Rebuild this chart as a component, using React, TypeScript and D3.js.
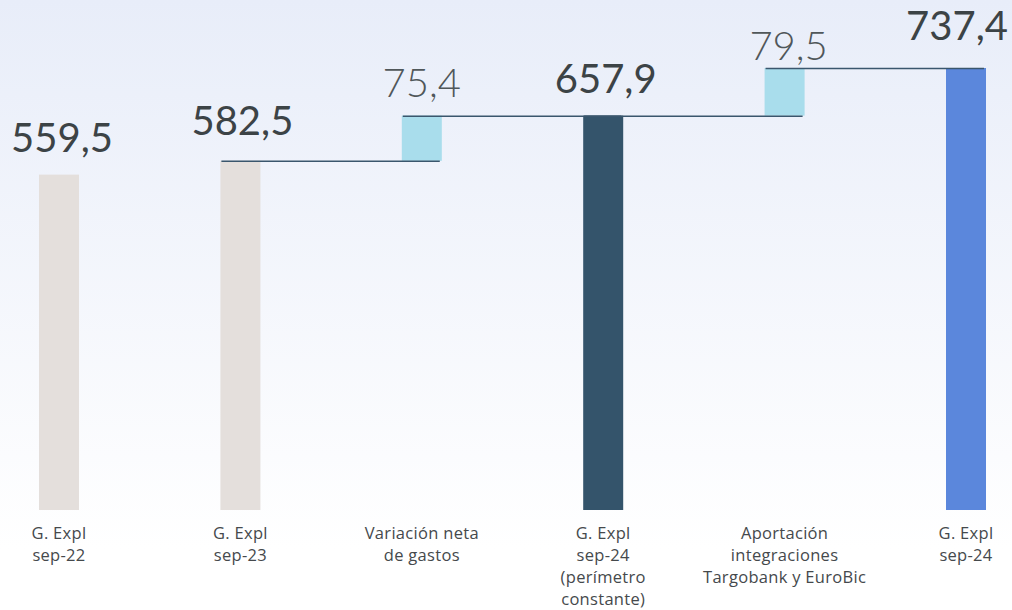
import React from "react";
import * as d3 from "d3";

const categories = [
  ["G. Expl", "sep-22"],
  ["G. Expl", "sep-23"],
  ["Variación neta", "de gastos"],
  ["G. Expl", "sep-24", "(perímetro", "constante)"],
  ["Aportación", "integraciones", "Targobank y EuroBic"],
  ["G. Expl", "sep-24"],
];
const kinds = ["base", "base", "delta", "total", "delta", "final"];
const values = [559.5, 582.5, 75.4, 657.9, 79.5, 737.4];
const labels = ["559,5", "582,5", "75,4", "657,9", "79,5", "737,4"];

const colors: Record<string, string> = {
  base: "#e4dfdc",
  delta: "#a9ddec",
  total: "#34546b",
  final: "#5b87dc",
};
const labelGap = [23, 26, 19, 23, 8, 28];
const labelShift = [3, 2, 0, 2.5, 4, -9];

export default function App() {
  const W = 1012, H = 610;
  const x = d3.scalePoint<number>().domain(d3.range(categories.length)).range([59, 966]);
  const y = d3.scaleLinear().domain([0, 737.4]).range([510, 68]);
  const bw = 40;

  let running = 0;
  const bars = values.map((v, i) => {
    let y0: number, y1: number;
    if (kinds[i] === "delta") {
      y0 = running;
      y1 = running + v;
      running = y1;
    } else {
      y0 = 0;
      y1 = v;
      running = v;
    }
    return { i, y0, y1 };
  });

  return (
    <svg width={W} height={H} style={{ position: "absolute", left: 0, top: 0 }}>
      <defs>
        <linearGradient id="bg" x1="0" y1="0" x2="0" y2="1">
          <stop offset="0" stopColor="#e8edf9" />
          <stop offset="0.9" stopColor="#ffffff" />
        </linearGradient>
      </defs>
      <rect width={W} height={H} fill="url(#bg)" />
      {bars.map((b) => (
        <rect
          key={b.i}
          x={x(b.i)! - bw / 2}
          y={y(b.y1)}
          width={bw}
          height={y(b.y0) - y(b.y1)}
          fill={colors[kinds[b.i]]}
        />
      ))}
      {bars.slice(1, -1).map((b, k) => {
        const next = bars[k + 2];
        const v = b.y1;
        return (
          <line
            key={"c" + k}
            x1={x(b.i)! - bw / 2 + 1}
            x2={x(next.i)! + bw / 2 - 2}
            y1={y(v) + 0.5}
            y2={y(v) + 0.5}
            stroke="#3a566d"
            strokeWidth={1.5}
          />
        );
      })}
      {bars.map((b) => (
        <text
          key={"l" + b.i}
          x={x(b.i)! + labelShift[b.i]}
          y={y(b.y1) - labelGap[b.i]}
          textAnchor="middle"
          fontFamily="Lato, 'Open Sans', sans-serif"
          fontSize={40}
          fontWeight={kinds[b.i] === "delta" ? 300 : 400}
          fill={kinds[b.i] === "delta" ? "#50575a" : "#3c4346"}
        >
          {labels[b.i]}
        </text>
      ))}
      {categories.map((lines, i) => (
        <text
          key={"cat" + i}
          x={x(i)!}
          y={539}
          textAnchor="middle"
          fontFamily="'Open Sans', Lato, sans-serif"
          fontSize={16.5}
          letterSpacing={0.3}
          fill="#45494c"
        >
          {lines.map((t, j) => (
            <tspan key={j} x={x(i)!} dy={j === 0 ? 0 : 22}>
              {t}
            </tspan>
          ))}
        </text>
      ))}
    </svg>
  );
}
